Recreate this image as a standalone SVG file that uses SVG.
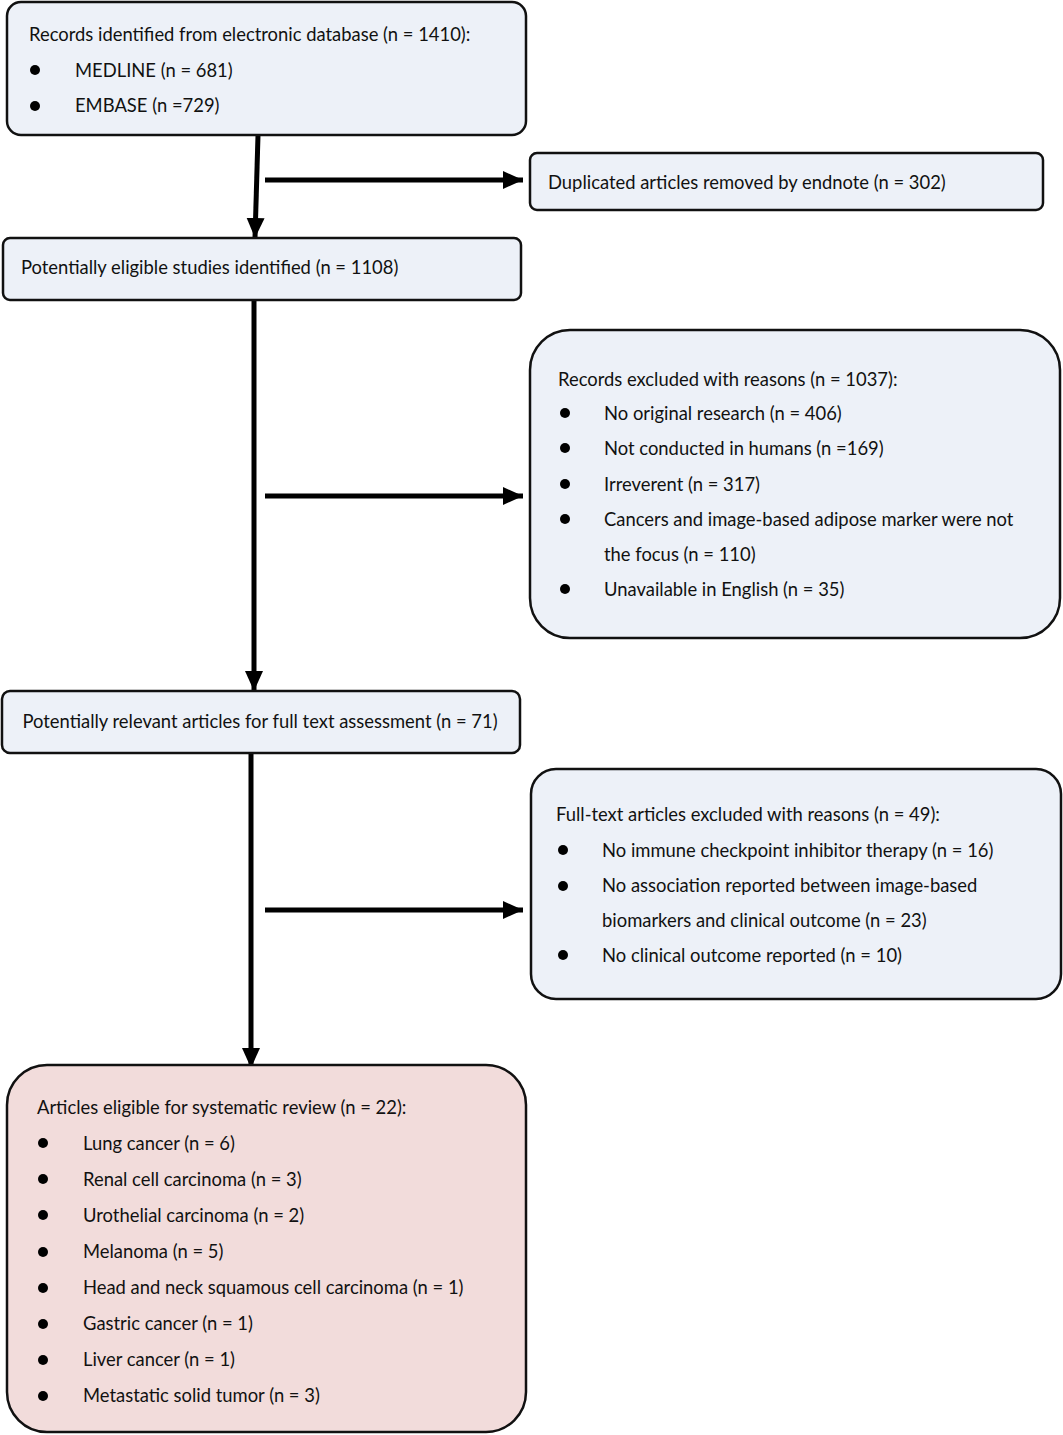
<svg xmlns="http://www.w3.org/2000/svg" width="1063" height="1435" viewBox="0 0 1063 1435">
<defs>
<style>
.box{fill:#edf1f8;stroke:#111;stroke-width:2.5}
.pink{fill:#f2dcdb;stroke:#111;stroke-width:2.5}
text{font-family:Lato,"Liberation Sans",sans-serif;font-size:18.4px;fill:#111}
.b{fill:#000}
.c{stroke:#000;stroke-width:5;fill:none}
</style>
<marker id="ah" markerUnits="userSpaceOnUse" markerWidth="20" markerHeight="20" viewBox="0 0 20 20" refX="20" refY="10" orient="auto">
<path d="M0,1 L20,10 L0,19 Z" fill="#000"/>
</marker>
</defs>
<rect width="1063" height="1435" fill="#fff"/>
<g id="connectors">
<line class="c" x1="258" y1="135" x2="255" y2="238" marker-end="url(#ah)"/>
<line class="c" x1="265" y1="180" x2="523" y2="180" marker-end="url(#ah)"/>
<line class="c" x1="254" y1="300" x2="254" y2="691" marker-end="url(#ah)"/>
<line class="c" x1="265" y1="496" x2="523" y2="496" marker-end="url(#ah)"/>
<line class="c" x1="251" y1="753" x2="251" y2="1068" marker-end="url(#ah)"/>
<line class="c" x1="265" y1="910" x2="523" y2="910" marker-end="url(#ah)"/>
</g>
<g id="records">
<rect class="box" x="7" y="2" width="519" height="133" rx="14"/>
<text x="29" y="41">Records identified from electronic database (n = 1410):</text>
<circle class="b" cx="35" cy="70" r="5"/><text x="75" y="77">MEDLINE (n = 681)</text>
<circle class="b" cx="35" cy="106" r="5"/><text x="75" y="112">EMBASE (n =729)</text>
</g>
<g id="duplicates">
<rect class="box" x="530" y="153" width="513" height="57" rx="7"/>
<text x="548" y="189">Duplicated articles removed by endnote (n = 302)</text>
</g>
<g id="eligible">
<rect class="box" x="3" y="238" width="518" height="62" rx="7"/>
<text x="21" y="274">Potentially eligible studies identified (n = 1108)</text>
</g>
<g id="excluded">
<rect class="box" x="530" y="330" width="530" height="308" rx="40"/>
<text x="558" y="386">Records excluded with reasons (n = 1037):</text>
<circle class="b" cx="565" cy="413" r="5"/><text x="604" y="420">No original research (n = 406)</text>
<circle class="b" cx="565" cy="448" r="5"/><text x="604" y="455">Not conducted in humans (n =169)</text>
<circle class="b" cx="565" cy="484" r="5"/><text x="604" y="491">Irreverent (n = 317)</text>
<circle class="b" cx="565" cy="519" r="5"/><text x="604" y="526">Cancers and image-based adipose marker were not</text>
<text x="604" y="561">the focus (n = 110)</text>
<circle class="b" cx="565" cy="589" r="5"/><text x="604" y="596">Unavailable in English (n = 35)</text>
</g>
<g id="relevant">
<rect class="box" x="2" y="691" width="518" height="62" rx="8"/>
<text x="260" y="728" text-anchor="middle">Potentially relevant articles for full text assessment (n = 71)</text>
</g>
<g id="fulltext">
<rect class="box" x="531" y="769" width="530" height="230" rx="25"/>
<text x="556" y="821">Full-text articles excluded with reasons (n = 49):</text>
<circle class="b" cx="563" cy="850" r="5"/><text x="602" y="857">No immune checkpoint inhibitor therapy (n = 16)</text>
<circle class="b" cx="563" cy="886" r="5"/><text x="602" y="892">No association reported between image-based</text>
<text x="602" y="927">biomarkers and clinical outcome (n = 23)</text>
<circle class="b" cx="563" cy="955" r="5"/><text x="602" y="962">No clinical outcome reported (n = 10)</text>
</g>
<g id="review">
<rect class="pink" x="7" y="1065" width="519" height="367" rx="40"/>
<text x="37" y="1114">Articles eligible for systematic review (n = 22):</text>
<circle class="b" cx="43" cy="1143" r="5"/><text x="83" y="1150">Lung cancer (n = 6)</text>
<circle class="b" cx="43" cy="1179" r="5"/><text x="83" y="1186">Renal cell carcinoma (n = 3)</text>
<circle class="b" cx="43" cy="1215" r="5"/><text x="83" y="1222">Urothelial carcinoma (n = 2)</text>
<circle class="b" cx="43" cy="1252" r="5"/><text x="83" y="1258">Melanoma (n = 5)</text>
<circle class="b" cx="43" cy="1288" r="5"/><text x="83" y="1294">Head and neck squamous cell carcinoma (n = 1)</text>
<circle class="b" cx="43" cy="1324" r="5"/><text x="83" y="1330">Gastric cancer (n = 1)</text>
<circle class="b" cx="43" cy="1360" r="5"/><text x="83" y="1366">Liver cancer (n = 1)</text>
<circle class="b" cx="43" cy="1396" r="5"/><text x="83" y="1402">Metastatic solid tumor (n = 3)</text>
</g>
</svg>
